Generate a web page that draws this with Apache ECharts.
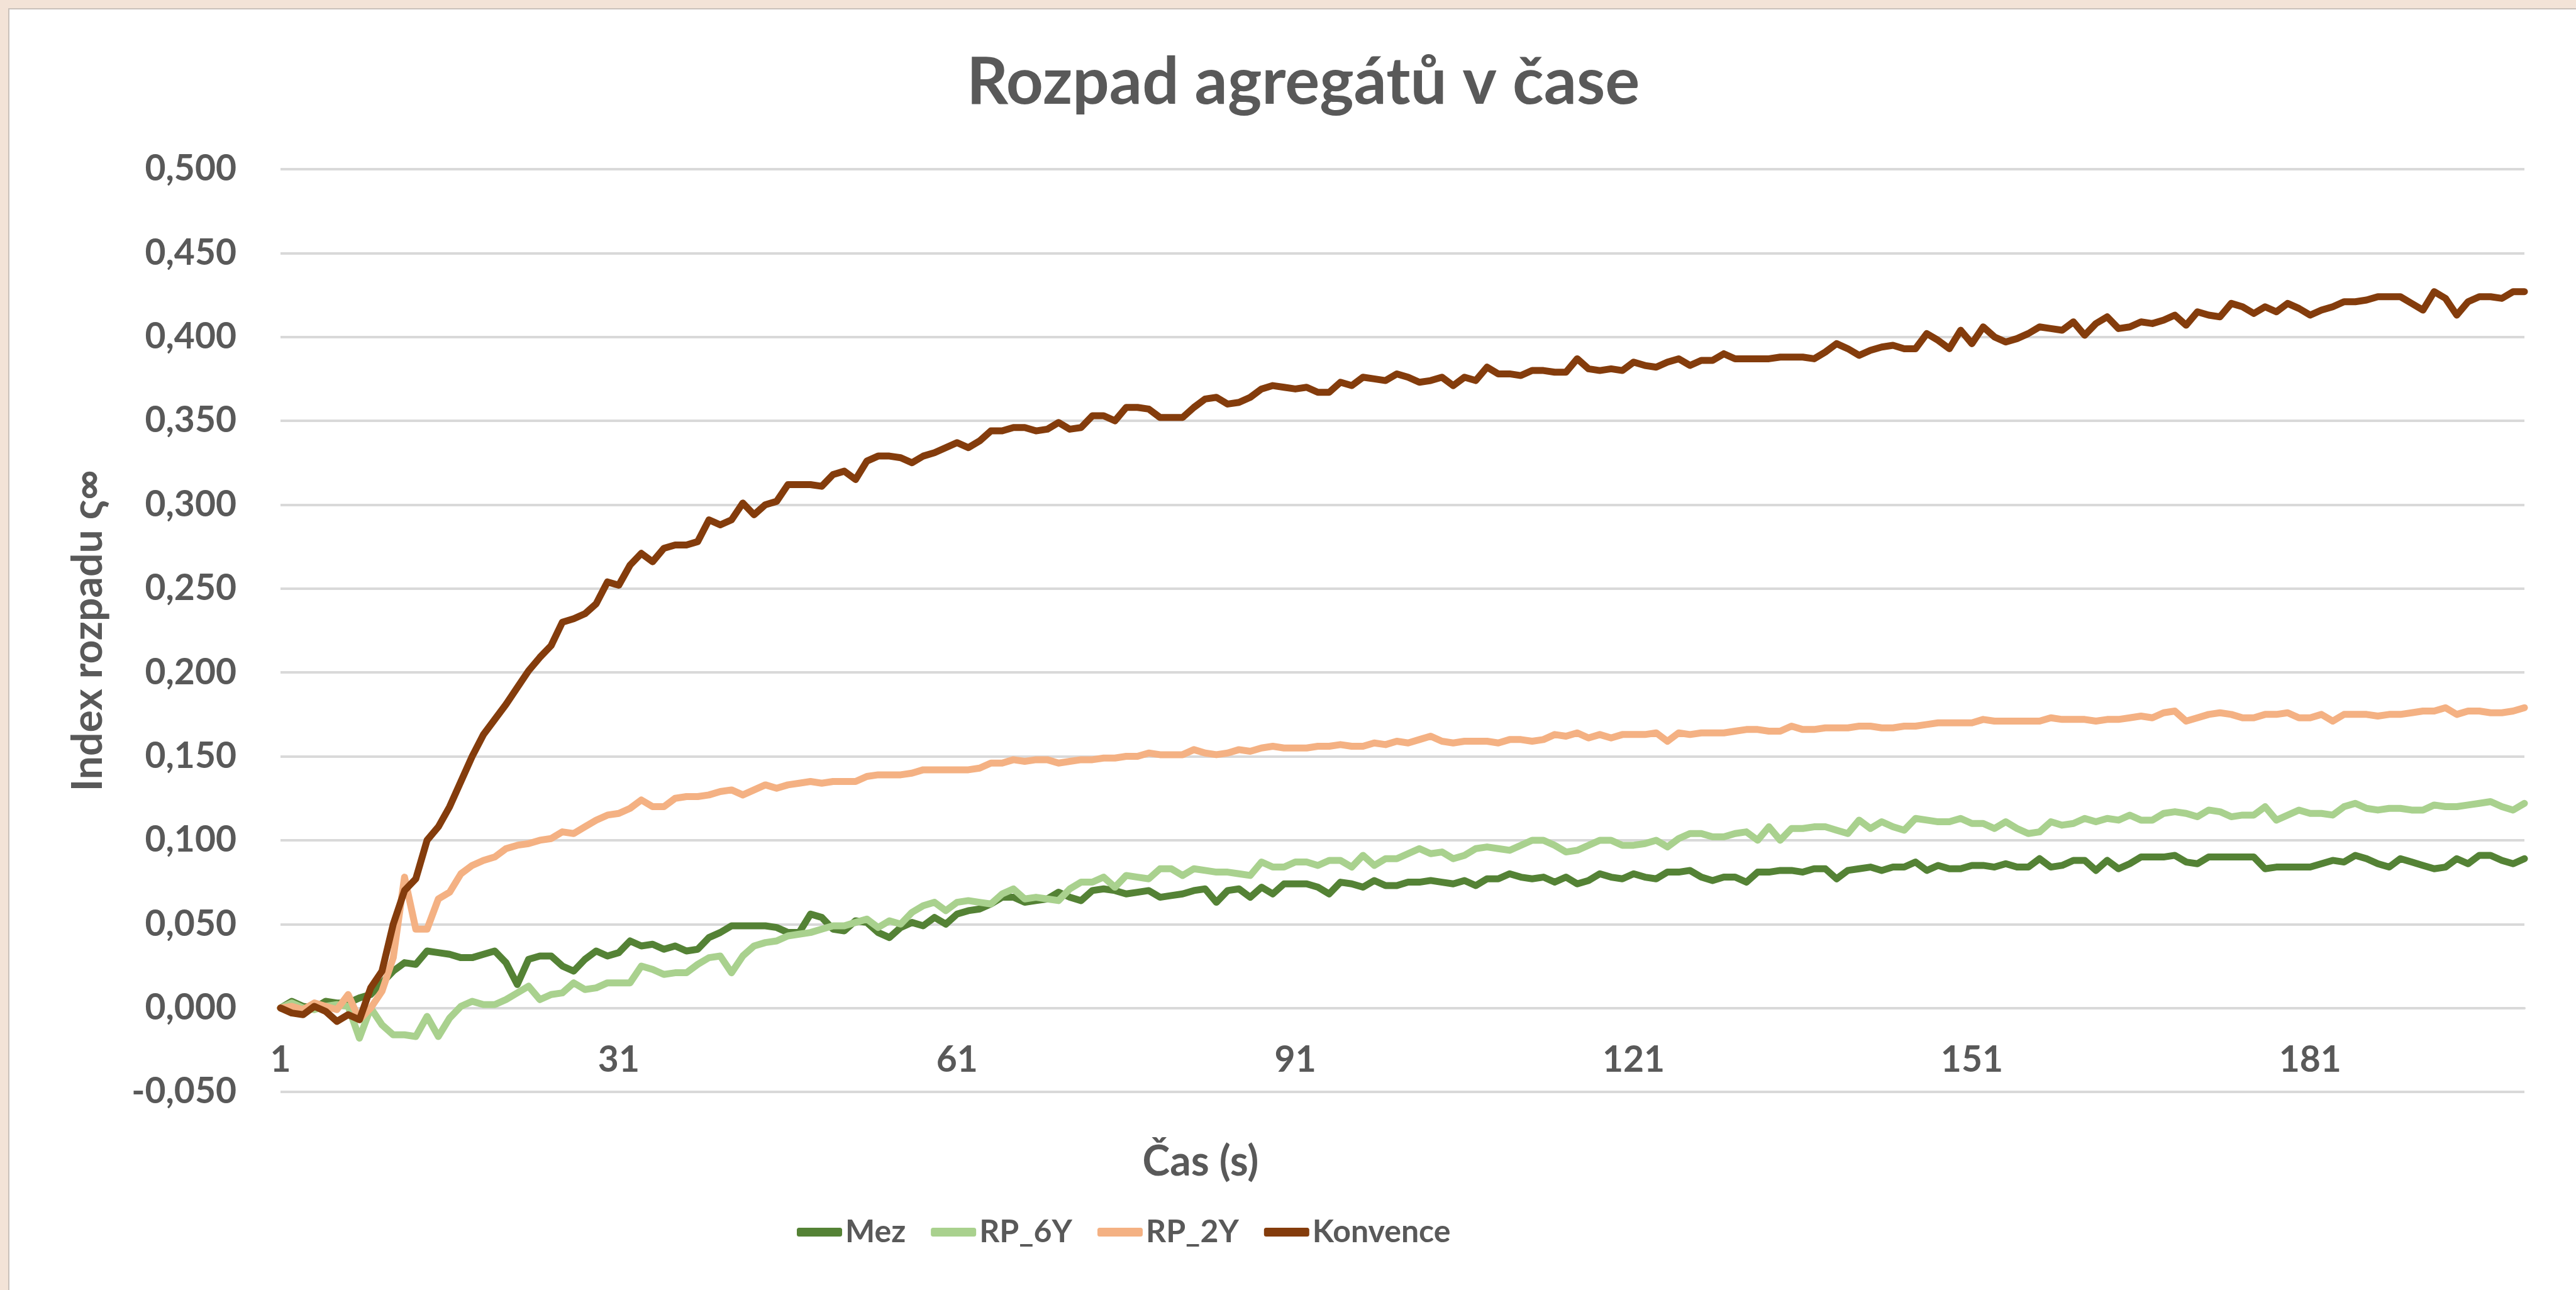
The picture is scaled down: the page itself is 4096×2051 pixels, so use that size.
<!DOCTYPE html>
<html>
<head>
<meta charset="utf-8">
<script src="https://cdn.jsdelivr.net/npm/echarts@6/dist/echarts.min.js"></script>
<style>
html,body{margin:0;padding:0;background:#f3e3d7;}
#chart{width:4096px;height:2051px;}
</style>
</head>
<body>
<div id="chart"></div>
<script>
const titleText = 'Rozpad agregátů v čase';
const yAxisTitle = 'Index rozpadu ς∞';
const xAxisTitle = 'Čas (s)';
const seriesNames = ['Mez', 'RP_6Y', 'RP_2Y', 'Konvence'];
const seriesColors = ['#548235', '#A9D18E', '#F4B183', '#843C0C'];
const yTicks = { min: -0.05, max: 0.5, step: 0.05 };

const categories = [];
for (let i = 1; i <= 200; i++) categories.push(String(i));

const mez = [
0.000,0.004,0.001,0.000,0.004,0.003,0.003,0.006,0.008,0.015,
0.022,0.027,0.026,0.034,0.033,0.032,0.030,0.030,0.032,0.034,
0.027,0.014,0.029,0.031,0.031,0.025,0.022,0.029,0.034,0.031,
0.033,0.040,0.037,0.038,0.035,0.037,0.034,0.035,0.042,0.045,
0.049,0.049,0.049,0.049,0.048,0.045,0.045,0.056,0.054,0.047,
0.046,0.052,0.051,0.045,0.042,0.048,0.051,0.049,0.054,0.050,
0.056,0.058,0.059,0.062,0.066,0.066,0.063,0.064,0.065,0.069,
0.066,0.064,0.070,0.071,0.070,0.068,0.069,0.070,0.066,0.067,
0.068,0.070,0.071,0.063,0.070,0.071,0.066,0.072,0.068,0.074,
0.074,0.074,0.072,0.068,0.075,0.074,0.072,0.076,0.073,0.073,
0.075,0.075,0.076,0.075,0.074,0.076,0.073,0.077,0.077,0.080,
0.078,0.077,0.078,0.075,0.078,0.074,0.076,0.080,0.078,0.077,
0.080,0.078,0.077,0.081,0.081,0.082,0.078,0.076,0.078,0.078,
0.075,0.081,0.081,0.082,0.082,0.081,0.083,0.083,0.077,0.082,
0.083,0.084,0.082,0.084,0.084,0.087,0.082,0.085,0.083,0.083,
0.085,0.085,0.084,0.086,0.084,0.084,0.089,0.084,0.085,0.088,
0.088,0.082,0.088,0.083,0.086,0.090,0.090,0.090,0.091,0.087,
0.086,0.090,0.090,0.090,0.090,0.090,0.083,0.084,0.084,0.084,
0.084,0.086,0.088,0.087,0.091,0.089,0.086,0.084,0.089,0.087,
0.085,0.083,0.084,0.089,0.086,0.091,0.091,0.088,0.086,0.089
];
const rp6y = [
0.000,0.003,0.000,-0.001,0.001,0.002,0.001,-0.018,0.000,-0.010,
-0.016,-0.016,-0.017,-0.005,-0.017,-0.006,0.001,0.004,0.002,0.002,
0.005,0.009,0.013,0.005,0.008,0.009,0.015,0.011,0.012,0.015,
0.015,0.015,0.025,0.023,0.020,0.021,0.021,0.026,0.030,0.031,
0.021,0.031,0.037,0.039,0.040,0.043,0.044,0.045,0.047,0.049,
0.049,0.051,0.053,0.048,0.052,0.050,0.057,0.061,0.063,0.058,
0.063,0.064,0.063,0.062,0.068,0.071,0.065,0.066,0.065,0.064,
0.071,0.075,0.075,0.078,0.072,0.079,0.078,0.077,0.083,0.083,
0.079,0.083,0.082,0.081,0.081,0.080,0.079,0.087,0.084,0.084,
0.087,0.087,0.085,0.088,0.088,0.084,0.091,0.085,0.089,0.089,
0.092,0.095,0.092,0.093,0.089,0.091,0.095,0.096,0.095,0.094,
0.097,0.100,0.100,0.097,0.093,0.094,0.097,0.100,0.100,0.097,
0.097,0.098,0.100,0.096,0.101,0.104,0.104,0.102,0.102,0.104,
0.105,0.100,0.108,0.100,0.107,0.107,0.108,0.108,0.106,0.104,
0.112,0.107,0.111,0.108,0.106,0.113,0.112,0.111,0.111,0.113,
0.110,0.110,0.107,0.111,0.107,0.104,0.105,0.111,0.109,0.110,
0.113,0.111,0.113,0.112,0.115,0.112,0.112,0.116,0.117,0.116,
0.114,0.118,0.117,0.114,0.115,0.115,0.120,0.112,0.115,0.118,
0.116,0.116,0.115,0.120,0.122,0.119,0.118,0.119,0.119,0.118,
0.118,0.121,0.120,0.120,0.121,0.122,0.123,0.120,0.118,0.122
];
const rp2y = [
0.000,0.001,-0.001,0.003,0.001,-0.001,0.008,-0.007,0.000,0.010,
0.030,0.078,0.047,0.047,0.065,0.069,0.080,0.085,0.088,0.090,
0.095,0.097,0.098,0.100,0.101,0.105,0.104,0.108,0.112,0.115,
0.116,0.119,0.124,0.120,0.120,0.125,0.126,0.126,0.127,0.129,
0.130,0.127,0.130,0.133,0.131,0.133,0.134,0.135,0.134,0.135,
0.135,0.135,0.138,0.139,0.139,0.139,0.140,0.142,0.142,0.142,
0.142,0.142,0.143,0.146,0.146,0.148,0.147,0.148,0.148,0.146,
0.147,0.148,0.148,0.149,0.149,0.150,0.150,0.152,0.151,0.151,
0.151,0.154,0.152,0.151,0.152,0.154,0.153,0.155,0.156,0.155,
0.155,0.155,0.156,0.156,0.157,0.156,0.156,0.158,0.157,0.159,
0.158,0.160,0.162,0.159,0.158,0.159,0.159,0.159,0.158,0.160,
0.160,0.159,0.160,0.163,0.162,0.164,0.161,0.163,0.161,0.163,
0.163,0.163,0.164,0.159,0.164,0.163,0.164,0.164,0.164,0.165,
0.166,0.166,0.165,0.165,0.168,0.166,0.166,0.167,0.167,0.167,
0.168,0.168,0.167,0.167,0.168,0.168,0.169,0.170,0.170,0.170,
0.170,0.172,0.171,0.171,0.171,0.171,0.171,0.173,0.172,0.172,
0.172,0.171,0.172,0.172,0.173,0.174,0.173,0.176,0.177,0.171,
0.173,0.175,0.176,0.175,0.173,0.173,0.175,0.175,0.176,0.173,
0.173,0.175,0.171,0.175,0.175,0.175,0.174,0.175,0.175,0.176,
0.177,0.177,0.179,0.175,0.177,0.177,0.176,0.176,0.177,0.179
];
const konvence = [
0.000,-0.003,-0.004,0.001,-0.002,-0.008,-0.004,-0.007,0.012,0.022,
0.050,0.070,0.077,0.100,0.108,0.120,0.135,0.150,0.163,0.172,
0.181,0.191,0.201,0.209,0.216,0.230,0.232,0.235,0.241,0.254,
0.252,0.264,0.271,0.266,0.274,0.276,0.276,0.278,0.291,0.288,
0.291,0.301,0.294,0.300,0.302,0.312,0.312,0.312,0.311,0.318,
0.320,0.315,0.326,0.329,0.329,0.328,0.325,0.329,0.331,0.334,
0.337,0.334,0.338,0.344,0.344,0.346,0.346,0.344,0.345,0.349,
0.345,0.346,0.353,0.353,0.350,0.358,0.358,0.357,0.352,0.352,
0.352,0.358,0.363,0.364,0.360,0.361,0.364,0.369,0.371,0.370,
0.369,0.370,0.367,0.367,0.373,0.371,0.376,0.375,0.374,0.378,
0.376,0.373,0.374,0.376,0.371,0.376,0.374,0.382,0.378,0.378,
0.377,0.380,0.380,0.379,0.379,0.387,0.381,0.380,0.381,0.380,
0.385,0.383,0.382,0.385,0.387,0.383,0.386,0.386,0.390,0.387,
0.387,0.387,0.387,0.388,0.388,0.388,0.387,0.391,0.396,0.393,
0.389,0.392,0.394,0.395,0.393,0.393,0.402,0.398,0.393,0.404,
0.396,0.406,0.400,0.397,0.399,0.402,0.406,0.405,0.404,0.409,
0.401,0.408,0.412,0.405,0.406,0.409,0.408,0.410,0.413,0.407,
0.415,0.413,0.412,0.420,0.418,0.414,0.418,0.415,0.420,0.417,
0.413,0.416,0.418,0.421,0.421,0.422,0.424,0.424,0.424,0.420,
0.416,0.427,0.423,0.413,0.421,0.424,0.424,0.423,0.427,0.427
];
const seriesValues = [mez, rp6y, rp2y, konvence];

const FONT = 'Lato';
const TXT = '#595959';
const GRIDC = '#d9d9d9';

const GRID_TOP = 269, GRID_H = 1467;
// distance from the bottom of the plot (value = min) up to value 0
const zeroOffset = GRID_H * (0 - yTicks.min) / (yTicks.max - yTicks.min);

const chart = echarts.init(document.getElementById('chart'), null, {renderer: 'canvas'});
chart.setOption({
  animation: false,
  backgroundColor: '#f3e3d7',
  graphic: [{
    type: 'rect', z: -100, silent: true,
    shape: {x: 14, y: 14, width: 4200, height: 2200},
    style: {fill: '#ffffff', stroke: '#c9c1ba', lineWidth: 2}
  }],
  title: {
    text: titleText,
    left: 1537,
    top: 80,
    padding: 0,
    textStyle: {fontFamily: FONT, fontWeight: 'bold', fontSize: 103, color: TXT}
  },
  legend: {
    data: seriesNames,
    left: 1262,
    top: 1929,
    icon: 'roundRect',
    itemWidth: 72,
    itemHeight: 14,
    itemGap: 40,
    textStyle: {fontFamily: FONT, fontWeight: 'bold', fontSize: 50, color: TXT}
  },
  grid: {left: 446, right: 82, top: GRID_TOP, height: GRID_H, containLabel: false},
  xAxis: {
    type: 'category',
    data: categories,
    boundaryGap: false,
    offset: -zeroOffset,
    name: xAxisTitle,
    nameLocation: 'middle',
    nameGap: 212,
    nameTextStyle: {fontFamily: FONT, fontWeight: 'bold', fontSize: 66, color: TXT, padding: [0, 642, 0, 0]},
    axisLine: {onZero: false, lineStyle: {color: GRIDC, width: 4}},
    axisTick: {show: false},
    axisLabel: {interval: 29, margin: 54, fontFamily: FONT, fontWeight: 'bold', fontSize: 57, color: TXT},
    splitLine: {show: false}
  },
  yAxis: {
    type: 'value',
    min: yTicks.min,
    max: yTicks.max,
    interval: yTicks.step,
    name: yAxisTitle,
    nameLocation: 'middle',
    nameGap: 272,
    nameRotate: 90,
    nameTextStyle: {fontFamily: FONT, fontWeight: 'bold', fontSize: 66, color: TXT},
    axisLine: {show: false},
    axisTick: {show: false},
    axisLabel: {
      margin: 70, fontFamily: FONT, fontWeight: 'bold', fontSize: 57, color: TXT,
      formatter: v => v.toFixed(3).replace('.', ',')
    },
    splitLine: {lineStyle: {color: GRIDC, width: 4}}
  },
  series: seriesNames.map((n, k) => ({
    name: n,
    type: 'line',
    data: seriesValues[k],
    showSymbol: false,
    symbol: 'none',
    lineStyle: {color: seriesColors[k], width: 11, join: 'round', cap: 'round'},
    itemStyle: {color: seriesColors[k]},
    z: 3 + k
  }))
});
</script>
</body>
</html>
